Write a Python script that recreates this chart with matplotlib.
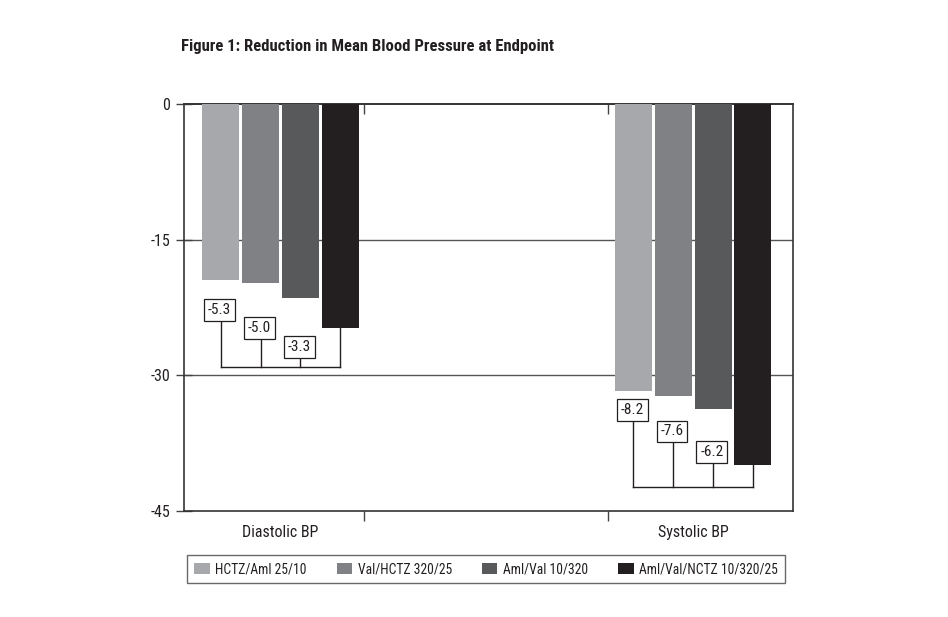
import matplotlib
matplotlib.use("Agg")
import matplotlib.pyplot as plt
from matplotlib.patches import Patch

# data
groups = ["Diastolic BP", "Systolic BP"]
treatments = ["HCTZ/Aml 25/10", "Val/HCTZ 320/25", "Aml/Val 10/320", "Aml/Val/NCTZ 10/320/25"]
diastolic = [-19.5, -19.8, -21.5, -24.8]
systolic = [-31.7, -32.3, -33.7, -39.9]
diastolic_diff = ["-5.3", "-5.0", "-3.3"]
systolic_diff = ["-8.2", "-7.6", "-6.2"]
yticks = [0, -15, -30, -45]

colors = ["#a7a8ab", "#808184", "#58595b", "#231f20"]
ink = "#231f20"

plt.rcParams['font.family'] = ['Roboto Condensed', 'DejaVu Sans']

fig = plt.figure(figsize=(9.48, 6.17), dpi=100)
ax = fig.add_axes([184/948, 1 - 511/617, (793 - 184)/948, (511 - 104)/617])

width = 0.0897
step = 0.0965
offsets = [(i - 1.5) * step for i in range(4)]

for gi, vals in enumerate([diastolic, systolic]):
    for i, v in enumerate(vals):
        ax.bar(gi + offsets[i], v, width=width, color=colors[i], zorder=3)

# brackets with difference labels
brackets = [
    (0, diastolic, diastolic_diff, [-22.8, -24.8, -26.9], -29.1),
    (1, systolic, systolic_diff, [-33.8, -36.2, -38.5], -42.3),
]
for gi, vals, diffs, label_y, br_y in brackets:
    xs = [gi + o for o in offsets]
    ax.plot([xs[0], xs[3]], [br_y, br_y], color=ink, lw=1.0, zorder=4)
    ax.plot([xs[3], xs[3]], [vals[3], br_y], color=ink, lw=1.0, zorder=4)
    for i in range(3):
        ax.plot([xs[i], xs[i]], [label_y[i], br_y], color=ink, lw=1.0, zorder=4)
        ax.text(xs[i] - 0.003, label_y[i], diffs[i], ha='center', va='center', fontsize=11,
                color=ink, zorder=6,
                bbox=dict(boxstyle='square,pad=0.25', fc='white', ec=ink, lw=0.9))

ax.set_xlim(-0.234, 1.242)
ax.set_ylim(-45, 0)
ax.set_yticks(yticks)
ax.set_yticklabels([str(t) for t in yticks], fontsize=11.5, color=ink)
for y in [-15, -30]:
    ax.axhline(y, color='#555555', lw=1.0, zorder=1)

ax.set_xticks([0, 1])
ax.set_xticklabels(groups, fontsize=11.5, color=ink)
ax.tick_params(axis='x', which='major', length=0, pad=10)
ax.set_xticks([0.203, 0.794], minor=True)
ax.tick_params(axis='x', which='minor', length=7, width=1.0, color='#444444', direction='out')
ax.tick_params(axis='y', direction='inout', length=12, width=1.0, color='#444444', pad=4)

# top edge: ticks pointing inward
top = ax.secondary_xaxis('top')
top.set_xticks([0.203, 0.794])
top.set_xticklabels(['', ''])
top.tick_params(direction='in', length=7, width=1.0, color='#444444')
top.spines['top'].set_color('#333333')
top.spines['top'].set_linewidth(1.2)

for s in ax.spines.values():
    s.set_color('#333333')
    s.set_linewidth(1.2)

fig.text(181/948, 1 - 47/617, "Figure 1: Reduction in Mean Blood Pressure at Endpoint",
         fontsize=12, fontweight='bold', color=ink, va='center', ha='left')

handles = [Patch(facecolor=c, edgecolor='none') for c in colors]
leg = fig.legend(handles, treatments, loc='center', ncol=4,
                 bbox_to_anchor=((187 + 785) / 2 / 948, 1 - 569/617),
                 fontsize=9.8, frameon=True, fancybox=False, edgecolor='#444444',
                 handlelength=1.15, handleheight=0.85, handletextpad=0.4,
                 borderpad=0.5, columnspacing=2.2, labelcolor=ink)
leg.get_frame().set_linewidth(1.0)

fig.savefig("out.png", dpi=100)
